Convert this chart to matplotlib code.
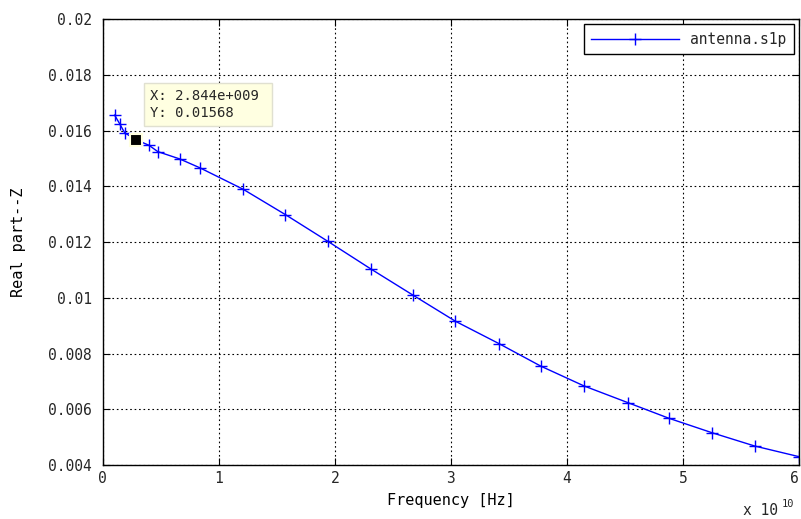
import matplotlib.pyplot as plt

# frequency (Hz) and real part of Z
freq_hz = [0.103e10, 0.149e10, 0.189e10, 0.2844e10, 0.398e10, 0.475e10, 0.662e10,
           0.837e10, 1.21e10, 1.574e10, 1.94e10, 2.31e10, 2.677e10, 3.04e10,
           3.414e10, 3.775e10, 4.147e10, 4.525e10, 4.878e10, 5.25e10, 5.62e10, 6.0e10]
real_z = [0.01656, 0.01623, 0.01593, 0.01568, 0.01548, 0.01525, 0.01499,
          0.01467, 0.01390, 0.01299, 0.01203, 0.01104, 0.01009, 0.00916,
          0.00836, 0.00755, 0.00684, 0.00624, 0.00568, 0.00516, 0.00468, 0.00430]

x_ticks = [0, 1e10, 2e10, 3e10, 4e10, 5e10, 6e10]
x_tick_labels = ['0', '1', '2', '3', '4', '5', '6']
y_ticks = [0.004, 0.006, 0.008, 0.01, 0.012, 0.014, 0.016, 0.018, 0.02]
y_tick_labels = ['0.004', '0.006', '0.008', '0.01', '0.012', '0.014', '0.016', '0.018', '0.02']

tip_x = 2.844e9
tip_y = 0.01568

# monospace gives the wide letter spacing of the MATLAB export
plt.rcParams['font.family'] = ['DejaVu Sans Mono', 'DejaVu Sans']
plt.rcParams['font.size'] = 10.5
plt.rcParams['text.color'] = '#262626'
plt.rcParams['xtick.labelcolor'] = '#262626'
plt.rcParams['ytick.labelcolor'] = '#262626'

fig = plt.figure(figsize=(8.01, 5.19), dpi=100)
ax = fig.add_axes([0.1282, 0.104, 0.8693, 0.8588])

ax.plot(freq_hz, real_z, color='#0000ff', linewidth=1.0, marker='+',
        markersize=8, markeredgewidth=1.0, label='antenna.s1p')

ax.set_xlim(0, 6e10)
ax.set_ylim(0.004, 0.02)
ax.set_xticks(x_ticks)
ax.set_xticklabels(x_tick_labels)
ax.set_yticks(y_ticks)
ax.set_yticklabels(y_tick_labels)
ax.get_xticklabels()[-1].set_ha('right')
ax.tick_params(direction='in', length=5, top=True, right=True, width=0.8)
ax.tick_params(axis='y', pad=8)
ax.tick_params(axis='x', pad=4)
ax.grid(True, color='black', linestyle=(0, (1.5, 2.5)), linewidth=0.8)
for s in ax.spines.values():
    s.set_linewidth(1.0)

ax.set_xlabel('Frequency [Hz]', labelpad=5, fontsize=11)
ax.set_ylabel('Real part--Z', labelpad=16, fontsize=11)

fig.text(743 / 801, 1 - 515 / 519, 'x 10', fontsize=10.5, ha='left', va='baseline')
fig.text(782 / 801, 1 - 507 / 519, '10', fontsize=7.5, ha='left', va='baseline')

leg = ax.legend(loc='upper right', fancybox=False, edgecolor='black', framealpha=1,
                borderaxespad=0.35, handlelength=6.0, borderpad=0.5)
leg.get_frame().set_linewidth(1.0)

# data tip
ax.plot([tip_x], [tip_y], marker='s', markersize=9, color='black',
        markeredgecolor='#ffffe0', markeredgewidth=1.5, zorder=5)
ax.annotate('X: 2.844e+009 \nY: 0.01568', xy=(tip_x, tip_y), xytext=(10, 14),
            textcoords='offset points', ha='left', va='bottom', fontsize=10,
            linespacing=1.3,
            bbox=dict(boxstyle='square,pad=0.4', facecolor='#ffffe1',
                      edgecolor='#e0e0d0', linewidth=1.0), zorder=6)

fig.savefig('out.png', dpi=100)
